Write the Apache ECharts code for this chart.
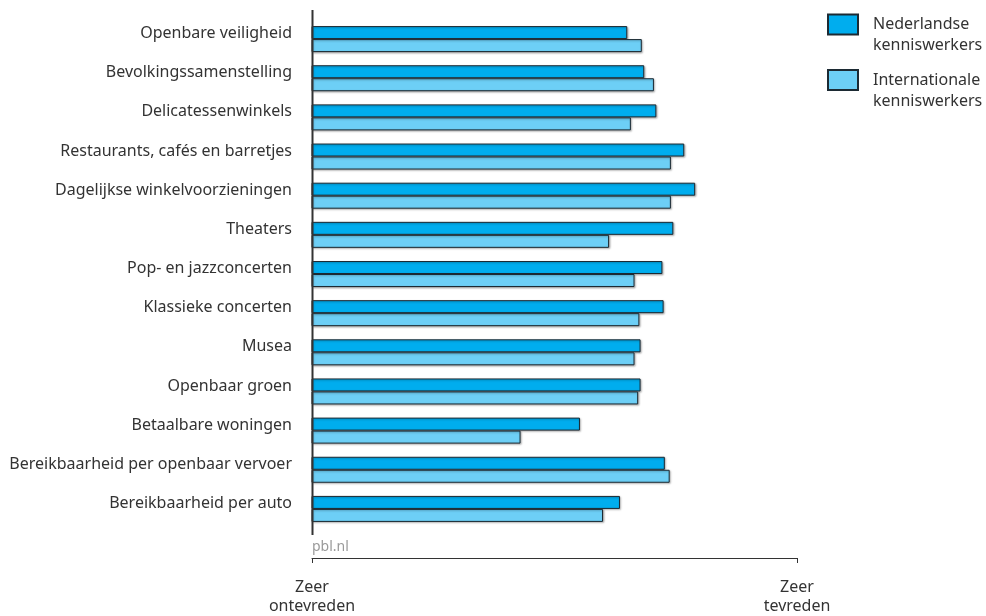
<!DOCTYPE html>
<html>
<head>
<meta charset="utf-8">
<script src="https://cdn.jsdelivr.net/npm/echarts@6/dist/echarts.min.js"></script>
<style>html,body{margin:0;padding:0;background:#fff}#c{width:986px;height:616px}</style>
</head>
<body>
<div id="c"></div>
<script>
const categories = [
  'Openbare veiligheid',
  'Bevolkingssamenstelling',
  'Delicatessenwinkels',
  'Restaurants, cafés en barretjes',
  'Dagelijkse winkelvoorzieningen',
  'Theaters',
  'Pop- en jazzconcerten',
  'Klassieke concerten',
  'Musea',
  'Openbaar groen',
  'Betaalbare woningen',
  'Bereikbaarheid per openbaar vervoer',
  'Bereikbaarheid per auto'
];
const nederlandse = [3.60, 3.74, 3.84, 4.07, 4.16, 3.98, 3.89, 3.90, 3.71, 3.71, 3.21, 3.91, 3.54];
const internationale = [3.72, 3.82, 3.63, 3.96, 3.96, 3.45, 3.66, 3.70, 3.66, 3.69, 2.72, 3.95, 3.40];
const seriesNames = ['Nederlandse\nkenniswerkers', 'Internationale\nkenniswerkers'];
const xTickLabels = {1: 'Zeer\nontevreden', 5: 'Zeer\ntevreden'};

const FONT = 'Noto Sans';
const chart = echarts.init(document.getElementById('c'), null, {renderer: 'canvas'});
const barStyle = (color) => ({
  color: color,
  borderColor: '#1c2a33',
  borderWidth: 1,
  shadowColor: 'rgba(0,0,0,0.3)',
  shadowBlur: 2,
  shadowOffsetX: 1,
  shadowOffsetY: 1
});
chart.setOption({
  animation: false,
  textStyle: {fontFamily: FONT},
  title: {
    text: 'pbl.nl',
    left: 312, top: 540, padding: 0,
    textStyle: {fontSize: 14, fontWeight: 'normal', color: '#9a9a9a', fontFamily: FONT}
  },
  legend: {
    orient: 'vertical',
    left: 827, top: -7, padding: 0,
    itemWidth: 30, itemHeight: 20, itemGap: -7.5,
    icon: 'rect',
    data: seriesNames,
    formatter: (name) => '\n' + name,
    textStyle: {fontSize: 16, color: '#333', lineHeight: 21, padding: [0, 0, 0, 10], fontFamily: FONT}
  },
  grid: {left: 312, right: 189, top: 19.5, height: 510},
  xAxis: {
    type: 'value', min: 1, max: 5, interval: 4,
    offset: 29.5,
    axisLine: {show: true, lineStyle: {color: '#333', width: 1}},
    axisTick: {show: true, length: 5, lineStyle: {color: '#333'}},
    splitLine: {show: false},
    axisLabel: {
      margin: 20, fontSize: 16, lineHeight: 19, color: '#333', fontFamily: FONT,
      formatter: (v) => xTickLabels[v] || ''
    }
  },
  yAxis: {
    type: 'category', data: categories, inverse: true,
    axisLine: {show: false}, axisTick: {show: false},
    axisLabel: {margin: 20, fontSize: 16, color: '#333', fontFamily: FONT, verticalAlign: 'bottom', lineHeight: 11}
  },
  graphic: [{
    type: 'line', z: 10,
    shape: {x1: 312.5, y1: 10, x2: 312.5, y2: 535},
    style: {stroke: '#333', lineWidth: 2}
  }],
  series: [
    {name: seriesNames[0], type: 'bar', data: nederlandse, barWidth: 13, barGap: '0%', itemStyle: barStyle('#00adee')},
    {name: seriesNames[1], type: 'bar', data: internationale, barWidth: 13, barGap: '0%', itemStyle: barStyle('#6dcff6')}
  ]
});
</script>
</body>
</html>
